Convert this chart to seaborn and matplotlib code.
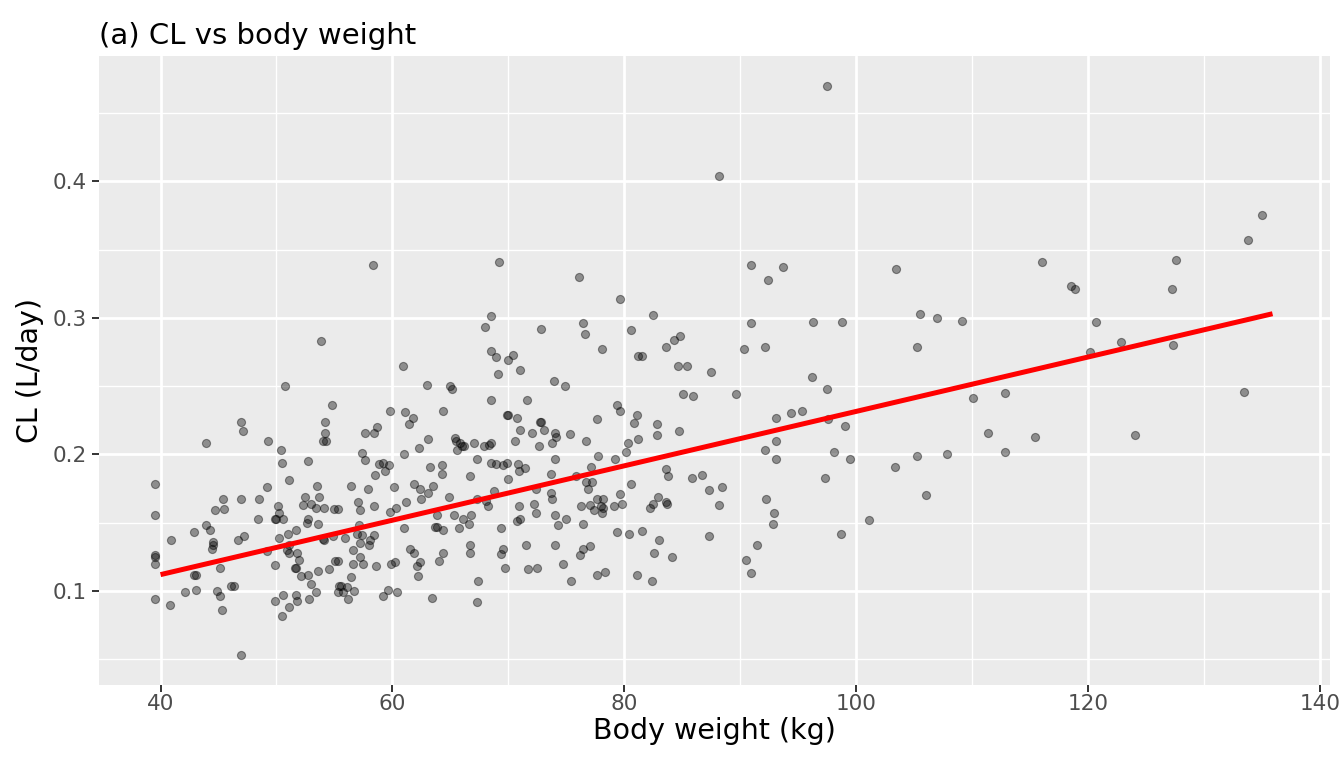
import numpy as np
import pandas as pd
import matplotlib
matplotlib.use("Agg")
import matplotlib.pyplot as plt
from matplotlib.ticker import MultipleLocator
import seaborn as sns

# body weight (kg) and clearance (L/day)
weight = [
    # 40-56 kg
    50.7, 54.8, 46.9, 47.1, 43.9, 49.3, 54.2, 54.2, 54.0, 54.3, 50.4, 50.5, 52.7,
    39.55, 51.1, 49.2, 53.5, 39.55, 45.4, 44.7, 45.5, 46.9, 48.5, 50.1, 52.5, 53.7,
    52.3, 53.0, 53.4, 54.1, 55.0, 55.3, 48.4, 49.9, 50.0, 50.2, 50.6, 52.6, 52.7,
    53.6, 43.9, 44.3, 42.9, 40.9, 44.5, 44.5, 44.4, 46.7, 47.2, 51.0, 51.7, 50.2,
    51.1, 50.9, 51.1, 51.8, 51.9, 54.0, 54.1, 54.9, 55.05, 55.3, 49.2, 39.55, 39.55,
    39.55, 49.9, 45.1, 42.9, 43.1, 51.6, 51.7, 52.1, 52.7, 53.6, 54.5, 53.0, 53.4,
    55.4, 55.3, 46.1, 46.3, 42.1, 43.1, 44.9, 45.1, 45.3, 39.55, 40.8, 46.9, 49.9,
    50.6, 51.7, 51.8, 51.1, 50.5, 52.8, 53.8,
    # 56-70 kg
    58.3, 69.15, 68.5, 68.0, 68.5, 68.9, 69.1, 60.9, 63.0, 65.0, 65.1, 68.5, 59.8,
    61.1, 61.8, 61.4, 64.4, 57.6, 58.4, 58.7, 63.1, 62.3, 65.4, 65.5, 65.8, 65.6,
    66.0, 66.2, 67.0, 67.9, 68.3, 68.5, 57.4, 57.6, 61.0, 67.3, 68.5, 68.9, 58.8,
    59.2, 59.7, 59.4, 58.5, 63.2, 64.3, 64.3, 66.7, 56.4, 57.9, 60.1, 61.9, 62.4,
    63.1, 63.5, 64.9, 62.5, 61.2, 60.3, 57.0, 57.2, 58.4, 67.3, 68.1, 68.2, 68.8,
    63.8, 65.3, 66.1, 66.8, 66.6, 59.8, 61.0, 63.7, 63.8, 64.4, 65.7, 57.1, 56.9,
    57.4, 58.4, 58.1, 58.0, 57.2, 55.9, 56.6, 57.2, 57.5, 56.6, 58.6, 59.9, 60.2,
    61.5, 61.9, 62.4, 62.1, 62.2, 64.4, 64.0, 66.7, 66.7, 56.4, 55.6, 56.1, 56.7,
    55.7, 56.2, 59.6, 59.2, 60.4, 63.4, 67.4, 67.3,
    # 69-86 kg
    69.5, 69.9, 69.4, 69.4, 69.5, 69.7, 76.1, 79.6, 82.5, 72.8, 76.4, 76.6, 80.6,
    78.1, 81.2, 81.5, 83.6, 84.3, 84.8, 84.6, 85.4, 70.0, 70.4, 71.0, 73.9, 74.9,
    71.6, 85.1, 69.9, 70.0, 70.7, 72.7, 72.8, 73.1, 71.0, 72.0, 70.6, 74.0, 74.1,
    73.8, 75.3, 72.6, 77.6, 79.4, 79.6, 81.1, 80.8, 82.8, 82.8, 84.7, 81.2, 76.7,
    80.3, 80.1, 74.0, 77.7, 79.2, 70.8, 70.9, 71.4, 73.7, 77.1, 83.6, 83.8, 70.0,
    75.8, 76.7, 77.2, 76.9, 80.6, 72.4, 73.7, 73.8, 70.9, 72.2, 72.4, 74.0, 75.0,
    74.3, 70.7, 71.0, 76.3, 77.0, 77.4, 77.6, 78.2, 78.0, 78.2, 78.1, 79.1, 79.8,
    79.6, 76.4, 82.2, 82.5, 82.9, 83.6, 83.7, 79.4, 80.4, 81.5, 83.0, 82.6, 84.1,
    71.5, 74.0, 76.4, 77.0, 76.2, 71.7, 72.5, 74.7, 75.4, 77.6, 78.3, 81.1, 82.4,
    # 85-104 kg
    85.9, 88.2, 90.9, 93.7, 92.4, 103.4, 90.9, 96.3, 98.8, 90.3, 92.1, 87.5, 96.2,
    97.5, 89.6, 93.1, 94.4, 95.3, 97.6, 99.0, 93.1, 92.1, 93.1, 98.1, 99.5, 103.3,
    85.8, 86.7, 87.3, 88.4, 88.2, 97.3, 92.2, 92.9, 92.8, 87.3, 98.7, 101.1, 91.4,
    90.5, 90.9, 97.5,
    # above 104 kg
    105.5, 107.0, 109.1, 105.2, 116.0, 118.5, 118.9, 120.7, 120.2, 110.1, 112.8,
    111.4, 115.4, 112.8, 105.2, 107.8, 106.0,
    135.0, 133.8, 127.6, 127.2, 122.8, 127.3, 133.4, 124.0,
]

clearance = [
    # 40-56 kg
    0.250, 0.236, 0.224, 0.217, 0.208, 0.210, 0.224, 0.216, 0.210, 0.210, 0.203, 0.194, 0.195,
    0.178, 0.181, 0.176, 0.177, 0.156, 0.167, 0.159, 0.160, 0.167, 0.167, 0.162, 0.169, 0.169,
    0.163, 0.164, 0.161, 0.161, 0.160, 0.160, 0.153, 0.153, 0.153, 0.157, 0.153, 0.150, 0.153,
    0.149, 0.148, 0.145, 0.143, 0.137, 0.136, 0.134, 0.131, 0.137, 0.140, 0.142, 0.145, 0.139,
    0.134, 0.130, 0.128, 0.128, 0.123, 0.138, 0.137, 0.140, 0.122, 0.122, 0.129, 0.126, 0.125,
    0.120, 0.119, 0.117, 0.112, 0.112, 0.117, 0.117, 0.111, 0.112, 0.115, 0.116, 0.105, 0.099,
    0.104, 0.099, 0.104, 0.104, 0.099, 0.101, 0.100, 0.096, 0.086, 0.094, 0.090, 0.053, 0.093,
    0.097, 0.097, 0.093, 0.088, 0.082, 0.094, 0.283,
    # 56-70 kg
    0.339, 0.341, 0.301, 0.293, 0.276, 0.271, 0.259, 0.265, 0.251, 0.250, 0.248, 0.240, 0.232,
    0.231, 0.227, 0.222, 0.232, 0.216, 0.216, 0.220, 0.211, 0.205, 0.212, 0.210, 0.208, 0.203,
    0.206, 0.206, 0.208, 0.206, 0.207, 0.208, 0.201, 0.196, 0.200, 0.197, 0.194, 0.193, 0.193,
    0.194, 0.192, 0.188, 0.185, 0.191, 0.192, 0.186, 0.184, 0.177, 0.175, 0.176, 0.178, 0.175,
    0.172, 0.177, 0.169, 0.167, 0.165, 0.161, 0.165, 0.159, 0.162, 0.167, 0.166, 0.162, 0.173,
    0.156, 0.156, 0.153, 0.156, 0.149, 0.158, 0.146, 0.147, 0.147, 0.145, 0.146, 0.148, 0.142,
    0.141, 0.141, 0.137, 0.134, 0.135, 0.139, 0.130, 0.125, 0.120, 0.120, 0.118, 0.120, 0.121,
    0.131, 0.128, 0.121, 0.118, 0.111, 0.128, 0.122, 0.134, 0.128, 0.110, 0.104, 0.103, 0.100,
    0.099, 0.094, 0.101, 0.096, 0.099, 0.095, 0.107, 0.092,
    # 69-86 kg
    0.192, 0.194, 0.146, 0.127, 0.131, 0.117, 0.330, 0.314, 0.302, 0.292, 0.296, 0.288, 0.291,
    0.277, 0.272, 0.272, 0.279, 0.284, 0.287, 0.265, 0.265, 0.269, 0.273, 0.262, 0.254, 0.250,
    0.240, 0.244, 0.229, 0.229, 0.227, 0.224, 0.224, 0.218, 0.218, 0.216, 0.210, 0.216, 0.213,
    0.208, 0.215, 0.206, 0.226, 0.236, 0.232, 0.229, 0.223, 0.222, 0.214, 0.217, 0.211, 0.210,
    0.208, 0.202, 0.197, 0.199, 0.197, 0.193, 0.188, 0.190, 0.186, 0.191, 0.189, 0.184, 0.182,
    0.184, 0.180, 0.180, 0.175, 0.178, 0.175, 0.172, 0.167, 0.162, 0.164, 0.157, 0.156, 0.153,
    0.148, 0.151, 0.153, 0.162, 0.163, 0.159, 0.167, 0.167, 0.162, 0.161, 0.157, 0.162, 0.164,
    0.171, 0.149, 0.161, 0.164, 0.169, 0.165, 0.164, 0.143, 0.142, 0.144, 0.137, 0.128, 0.125,
    0.134, 0.134, 0.131, 0.133, 0.126, 0.116, 0.117, 0.120, 0.107, 0.112, 0.114, 0.112, 0.107,
    # 85-104 kg
    0.243, 0.404, 0.339, 0.337, 0.328, 0.336, 0.296, 0.297, 0.297, 0.277, 0.279, 0.260, 0.257,
    0.248, 0.244, 0.227, 0.230, 0.232, 0.226, 0.221, 0.210, 0.203, 0.197, 0.202, 0.197, 0.191,
    0.183, 0.185, 0.174, 0.176, 0.163, 0.183, 0.167, 0.157, 0.149, 0.140, 0.142, 0.152, 0.134,
    0.123, 0.113, 0.470,
    # above 104 kg
    0.303, 0.300, 0.298, 0.279, 0.341, 0.323, 0.321, 0.297, 0.275, 0.241, 0.245,
    0.216, 0.213, 0.202, 0.199, 0.200, 0.170,
    0.375, 0.357, 0.342, 0.321, 0.282, 0.280, 0.246, 0.214,
]

# red linear trend, end points
fit_weight = [40.0, 135.9]
fit_cl = [0.112, 0.303]

x_ticks = [40, 60, 80, 100, 120, 140]
y_ticks = [0.1, 0.2, 0.3, 0.4]

df = pd.DataFrame({"weight": weight, "cl": clearance})
fit = pd.DataFrame({"weight": fit_weight, "cl": fit_cl})

sns.set_theme(style="darkgrid")
plt.rcParams["font.family"] = ["DejaVu Sans"]

fig = plt.figure(figsize=(13.44, 7.68), dpi=100)
ax = fig.add_axes([0.0739, 0.1081, 0.9157, 0.819])
ax.set_facecolor("#EBEBEB")

# points
sns.scatterplot(data=df, x="weight", y="cl", ax=ax, color="black", alpha=0.4,
                s=34, edgecolor="black", linewidth=0.8, zorder=3)

# trend line
sns.lineplot(data=fit, x="weight", y="cl", ax=ax, color="red", linewidth=3.6,
             solid_capstyle="butt", zorder=4)

ax.set_xlim(34.72, 140.86)
ax.set_ylim(0.0312, 0.4917)
ax.set_xticks(x_ticks)
ax.set_yticks(y_ticks)
ax.xaxis.set_minor_locator(MultipleLocator(10))
ax.yaxis.set_minor_locator(MultipleLocator(0.05))
ax.set_xticklabels([str(t) for t in x_ticks])
ax.set_yticklabels([f"{t:.1f}" for t in y_ticks])

ax.grid(which="major", color="white", linewidth=2.0)
ax.grid(which="minor", color="white", linewidth=1.0)
ax.set_axisbelow(True)
for s in ax.spines.values():
    s.set_visible(False)

ax.tick_params(axis="both", which="major", length=5, width=1.4, color="#333333",
               labelsize=15.5, labelcolor="#4D4D4D", bottom=True, left=True)
ax.tick_params(axis="x", which="major", pad=1.5)
ax.tick_params(axis="y", which="major", pad=4)
ax.tick_params(axis="both", which="minor", length=0)

ax.set_xlabel("Body weight (kg)", fontsize=20.5, color="black", labelpad=2)
ax.set_ylabel("CL (L/day)", fontsize=20.5, color="black", labelpad=6.5)
ax.set_title("(a) CL vs body weight", loc="left", fontsize=21, color="black", pad=8.6)

fig.savefig("out.png", dpi=100)
